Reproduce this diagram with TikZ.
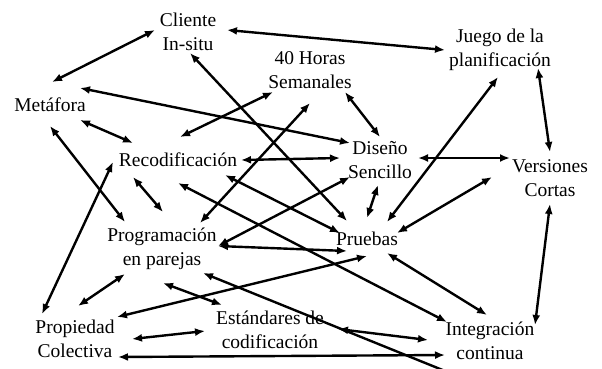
\documentclass[tikz,border=0pt]{standalone}
\usepackage{fontspec}
\setmainfont{Liberation Serif}
\usetikzlibrary{arrows.meta}
\tikzset{
  lbl/.style={align=center, inner sep=0pt, font=\fontsize{19.5}{24}\selectfont},
  edge/.style={line width=2.4pt, {Latex[length=10pt,width=8pt]}-{Latex[length=10pt,width=8pt]}},
  halfedge/.style={line width=2.4pt, {Latex[length=10pt,width=8pt]}-}
}
\begin{document}
\begin{tikzpicture}[x=1pt,y=-1pt]
\useasboundingbox[fill=white] (0,0) rectangle (602,368);
% practices of the method
\node[lbl] (cli) at (188,32)  {Cliente\\In-situ};
\node[lbl] (hor) at (310,70)  {40 Horas\\Semanales};
\node[lbl] (jue) at (500,50)  {Juego de la\\planificación};
\node[lbl] (met) at (50,105)  {Metáfora};
\node[lbl] (rec) at (178,160) {Recodificación};
\node[lbl] (dis) at (380,160) {Diseño\\Sencillo};
\node[lbl] (ver) at (550,178) {Versiones\\Cortas};
\node[lbl] (pro) at (162,249) {Programación\\en parejas};
\node[lbl] (pru) at (367,239) {Pruebas};
\node[lbl] (pco) at (75,339)  {Propiedad\\Colectiva};
\node[lbl] (est) at (270,330) {Estándares de\\codificación};
\node[lbl] (int) at (490,341) {Integración\\continua};
\coordinate (off) at (450,373);
% relations between practices
\draw[edge] ([shift={(2,-23)}]met.center) -- ([shift={(-33,-2)}]cli.center);
\draw[edge] ([shift={(39,-2)}]cli.center) -- ([shift={(-55,0)}]jue.center);
\draw[edge] ([shift={(2,21)}]cli.center) -- ([shift={(-20,-18)}]pru.center);
\draw[edge] ([shift={(30,-17)}]met.center) -- ([shift={(-30,-17)}]dis.center);
\draw[edge] ([shift={(30,15)}]met.center) -- ([shift={(-45,-17)}]rec.center);
\draw[edge] ([shift={(0,21)}]met.center) -- ([shift={(-37,-27)}]pro.center);
\draw[edge] ([shift={(-65,2)}]rec.center) -- ([shift={(-33,-25)}]pco.center);
\draw[edge] ([shift={(-45,17)}]rec.center) -- ([shift={(1,-37)}]pro.center);
\draw[edge] ([shift={(-37,22)}]hor.center) -- ([shift={(2,-23)}]rec.center);
\draw[edge] ([shift={(0,33)}]hor.center) -- ([shift={(38,-26)}]pro.center);
\draw[edge] ([shift={(35,22)}]hor.center) -- ([shift={(0,-23)}]dis.center);
\draw[edge] ([shift={(63,0)}]rec.center) -- ([shift={(-40,-2)}]dis.center);
\draw[edge] ([shift={(38,-2)}]dis.center) -- ([shift={(-40,-20)}]ver.center);
\draw[edge] ([shift={(-2,25)}]dis.center) -- ([shift={(0,-21)}]pru.center);
\draw[edge] ([shift={(-30,17)}]dis.center) -- ([shift={(56,-3)}]pro.center);
\draw[edge] ([shift={(-2,27)}]jue.center) -- ([shift={(20,-17)}]pru.center);
\draw[edge] ([shift={(38,18)}]jue.center) -- ([shift={(0,-26)}]ver.center);
\draw[edge] ([shift={(-58,-1)}]ver.center) -- ([shift={(30,-6)}]pru.center);
\draw[edge] ([shift={(0,26)}]ver.center) -- ([shift={(45,-16)}]int.center);
\draw[edge] ([shift={(47,15)}]rec.center) -- ([shift={(-27,-6)}]pru.center);
\draw[edge] ([shift={(0,23)}]rec.center) -- ([shift={(-43,-19)}]int.center);
\draw[edge] ([shift={(56,-3)}]pro.center) -- ([shift={(-20,12)}]pru.center);
\draw[edge] ([shift={(20,14)}]pru.center) -- ([shift={(-3,-26)}]int.center);
\draw[edge] ([shift={(68,-1)}]est.center) -- ([shift={(-62,-1)}]int.center);
\draw[halfedge] ([shift={(41,24)}]pro.center) -- (off);
\draw[edge] ([shift={(1,34)}]pro.center) -- ([shift={(-48,-25)}]est.center);
\draw[edge] ([shift={(-37,25)}]pro.center) -- ([shift={(3,-33)}]pco.center);
\draw[edge] ([shift={(42,-22)}]pco.center) -- ([shift={(0,17)}]pru.center);
\draw[edge] ([shift={(57,0)}]pco.center) -- ([shift={(-65,1)}]est.center);
\draw[edge] ([shift={(43,18)}]pco.center) -- ([shift={(-45,14)}]int.center);
\end{tikzpicture}
\end{document}
